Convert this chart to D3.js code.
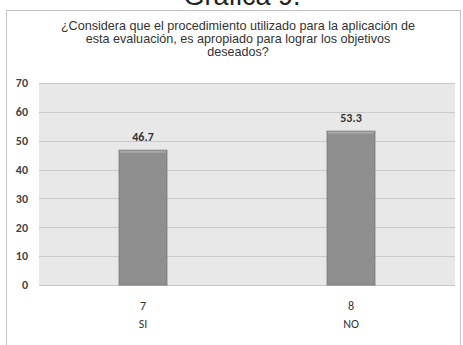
<!DOCTYPE html>
<html>
<head>
<meta charset="utf-8">
<script src="https://cdn.jsdelivr.net/npm/d3@7"></script>
<style>
  body { margin: 0; background: #fff; }
  svg { display: block; }
</style>
</head>
<body>
<svg id="chart" width="463" height="345"></svg>
<script>
var categories = ["SI", "NO"];
var counts = ["7", "8"];
var percents = [46.7, 53.3];
var yTicks = [0, 10, 20, 30, 40, 50, 60, 70];
var titleLines = [
	"¿Considera que el procedimiento utilizado para la aplicación de",
	"esta evaluación, es apropiado para lograr los objetivos",
	"deseados?"
];

var svg = d3.select("#chart");

// heading of the page, cut at the top
svg.append("text")
	.attr("x", 242)
	.attr("y", 5)
	.attr("text-anchor", "middle")
	.attr("font-family", "Liberation Sans, Arial, sans-serif")
	.attr("font-size", 27)
	.attr("fill", "#222")
	.text("Gráfica 9.");

// chart frame
svg.append("rect")
	.attr("x", 6.5)
	.attr("y", 10.5)
	.attr("width", 454)
	.attr("height", 340)
	.attr("fill", "#fff")
	.attr("stroke", "#c4c4c4");

svg.append("g")
	.selectAll("text")
	.data(titleLines)
	.enter().append("text")
	.attr("x", 238)
	.attr("y", function(d, i){ return 30 + i * 13.2; })
	.attr("text-anchor", "middle")
	.attr("font-family", "Liberation Sans, Arial, sans-serif")
	.attr("font-size", 12.6)
	.attr("fill", "#333")
	.text(function(d){ return d; });

var plotLeft = 39, plotRight = 455, plotTop = 83, plotBottom = 285;

var x = d3.scaleBand()
	.domain(categories)
	.range([plotLeft, plotRight])
	.paddingInner(0.77)
	.paddingOuter(0.385);

var y = d3.scaleLinear()
	.domain([0, 70])
	.range([plotBottom, plotTop]);

svg.append("rect")
	.attr("x", plotLeft)
	.attr("y", plotTop)
	.attr("width", plotRight - plotLeft)
	.attr("height", plotBottom - plotTop)
	.attr("fill", "#e8e8e8");

svg.append("g")
	.selectAll("line")
	.data(yTicks)
	.enter().append("line")
	.attr("x1", plotLeft)
	.attr("x2", plotRight)
	.attr("y1", function(d){ return Math.round(y(d)) + 0.5; })
	.attr("y2", function(d){ return Math.round(y(d)) + 0.5; })
	.attr("stroke", "#c9c9c9");

var yAxis = d3.axisLeft(y)
	.tickValues(yTicks)
	.tickSize(0)
	.tickPadding(11);

var yg = svg.append("g")
	.attr("transform", "translate(" + plotLeft + ",0)")
	.call(yAxis);
yg.select(".domain").remove();
yg.selectAll("text")
	.attr("font-family", "Carlito, Calibri, Liberation Sans, sans-serif")
	.attr("font-size", 12)
	.attr("font-weight", "bold")
	.attr("fill", "#444");

var data = categories.map(function(c, i){
	return { cat: c, count: counts[i], value: percents[i] };
});

var bars = svg.append("g")
	.selectAll(".bar")
	.data(data)
	.enter().append("g")
	.attr("class", "bar");

bars.append("rect")
	.attr("x", function(d){ return x(d.cat); })
	.attr("y", function(d){ return y(d.value); })
	.attr("width", x.bandwidth())
	.attr("height", function(d){ return plotBottom - y(d.value); })
	.attr("fill", "#8f8f8f")
	.attr("stroke", "#7c7c7c")
	.attr("stroke-width", 1);

bars.append("rect")
	.attr("x", function(d){ return x(d.cat) + 1; })
	.attr("y", function(d){ return y(d.value) + 0.5; })
	.attr("width", x.bandwidth() - 2)
	.attr("height", 2)
	.attr("fill", "#a8a8a8");

bars.append("text")
	.attr("x", function(d){ return x(d.cat) + x.bandwidth() / 2; })
	.attr("y", function(d){ return y(d.value) - 9; })
	.attr("text-anchor", "middle")
	.attr("font-family", "Carlito, Calibri, Liberation Sans, sans-serif")
	.attr("font-size", 12)
	.attr("font-weight", "bold")
	.attr("fill", "#333")
	.text(function(d){ return d.value.toFixed(1); });

bars.append("text")
	.attr("x", function(d){ return x(d.cat) + x.bandwidth() / 2; })
	.attr("y", 310)
	.attr("text-anchor", "middle")
	.attr("font-family", "Carlito, Calibri, Liberation Sans, sans-serif")
	.attr("font-size", 12)
	.attr("fill", "#333")
	.text(function(d){ return d.count; });

bars.append("text")
	.attr("x", function(d){ return x(d.cat) + x.bandwidth() / 2; })
	.attr("y", 328)
	.attr("text-anchor", "middle")
	.attr("font-family", "Carlito, Calibri, Liberation Sans, sans-serif")
	.attr("font-size", 12)
	.attr("fill", "#333")
	.text(function(d){ return d.cat; });
</script>
</body>
</html>
